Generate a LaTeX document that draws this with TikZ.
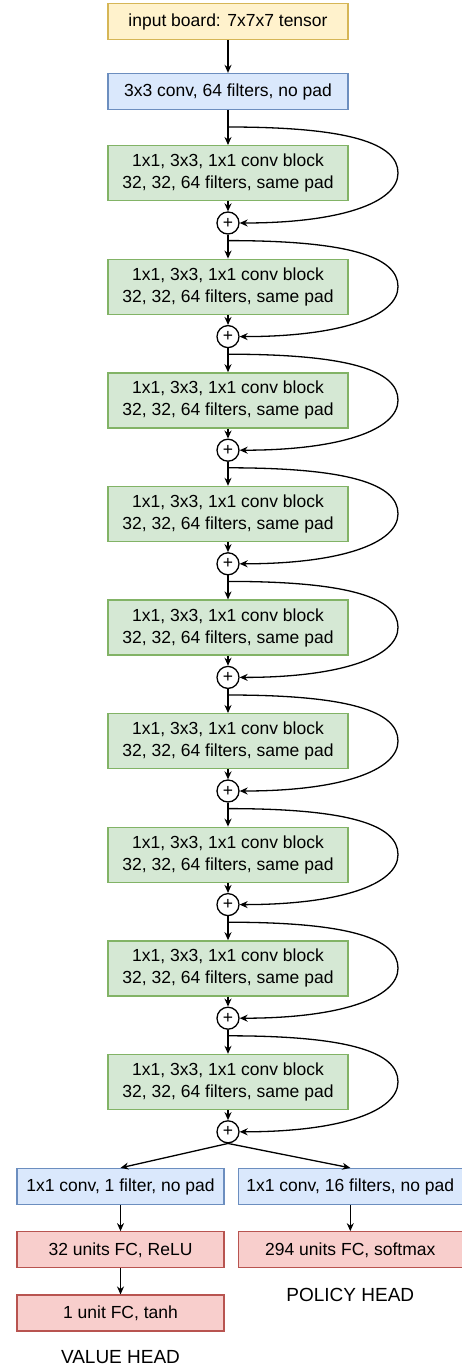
\documentclass[tikz,border=0pt]{standalone}
\usepackage{fontspec}
\setmainfont{Liberation Sans}
\usetikzlibrary{positioning}
\usetikzlibrary{arrows.meta}
\usetikzlibrary{calc}
\definecolor{pYellow}{HTML}{FFF2CC}
\definecolor{pYellowLine}{HTML}{D6B656}
\definecolor{pBlue}{HTML}{DAE8FC}
\definecolor{pBlueLine}{HTML}{6C8EBF}
\definecolor{pGreen}{HTML}{D5E8D4}
\definecolor{pGreenLine}{HTML}{82B366}
\definecolor{pRed}{HTML}{F8CECC}
\definecolor{pRedLine}{HTML}{B85450}

\tikzset{
  layer/.style={draw, line width=1.3pt, minimum width=240pt, minimum height=36pt, inner sep=0pt,
    align=center, font=\fontsize{17.5}{22}\selectfont},
  inbox/.style={layer, fill=pYellow, draw=pYellowLine},
  convbox/.style={layer, fill=pBlue, draw=pBlueLine},
  resbox/.style={layer, fill=pGreen, draw=pGreenLine, minimum height=55pt},
  fcbox/.style={layer, fill=pRed, draw=pRedLine},
  addop/.style={circle, draw, line width=1.3pt, minimum size=22pt, inner sep=0pt, fill=white,
    font=\fontsize{17.5}{18}\selectfont},
  flow/.style={line width=1.3pt, -{Stealth[length=8pt,width=7pt]}},
  headlab/.style={inner sep=0pt, font=\fontsize{19}{20}\selectfont}
}

\begin{document}
\begin{tikzpicture}[x=1pt, y=1pt]
  \useasboundingbox (0,0) rectangle (462,-1365);

  \node[inbox] (input) at (228,-21.5) {input board: 7x7x7 tensor};
  \node[convbox] (stem) at (228,-91.5) {3x3 conv, 64 filters, no pad};
  \draw[flow] (input) -- (stem);

  % residual tower
  \foreach \i in {1,...,9} {
    \pgfmathsetmacro{\ytop}{145+(\i-1)*113.6}
    \node[resbox, anchor=north] (blk\i) at (228,-\ytop) {1x1, 3x3, 1x1 conv block\\32, 32, 64 filters, same pad};
    \node[addop] (add\i) at (228,-\ytop-78) {+};
    \coordinate (skip\i) at (228,-\ytop+18);
    \coordinate (peak\i) at ($(skip\i)+(170,-46)$);
    \draw[flow] (blk\i) -- (add\i);
    \draw[flow] (skip\i) .. controls +(120,0) and +(0,30) .. (peak\i)
      .. controls +(0,-30) and +(100,0) .. (add\i.east);
  }
  \draw[flow] (stem) -- (blk1);
  \foreach \i [evaluate=\i as \j using int(\i-1)] in {2,...,9}
    \draw[flow] (add\j) -- (blk\i);

  % heads
  \node[convbox, minimum width=207pt] (val1) at (120.5,-1186.5) {1x1 conv, 1 filter, no pad};
  \node[convbox, minimum width=224pt, right=13pt of val1] (pol1) {1x1 conv, 16 filters, no pad};
  \node[fcbox, minimum width=207pt, below=26pt of val1] (val2) {32 units FC, ReLU};
  \node[fcbox, minimum width=207pt, below=26pt of val2] (val3) {1 unit FC, tanh};
  \node[fcbox, minimum width=224pt, below=26pt of pol1] (pol2) {294 units FC, softmax};

  \draw[flow] (add9.south) -- (val1.north);
  \draw[flow] (add9.south) -- (pol1.north);
  \draw[flow] (val1) -- (val2);
  \draw[flow] (val2) -- (val3);
  \draw[flow] (pol1) -- (pol2);

  \node[headlab] (polhead) at ($(pol2.south)+(0,-26)$) {POLICY HEAD};
  \node[headlab] (valhead) at ($(val3.south)+(0,-25)$) {VALUE HEAD};
\end{tikzpicture}
\end{document}
